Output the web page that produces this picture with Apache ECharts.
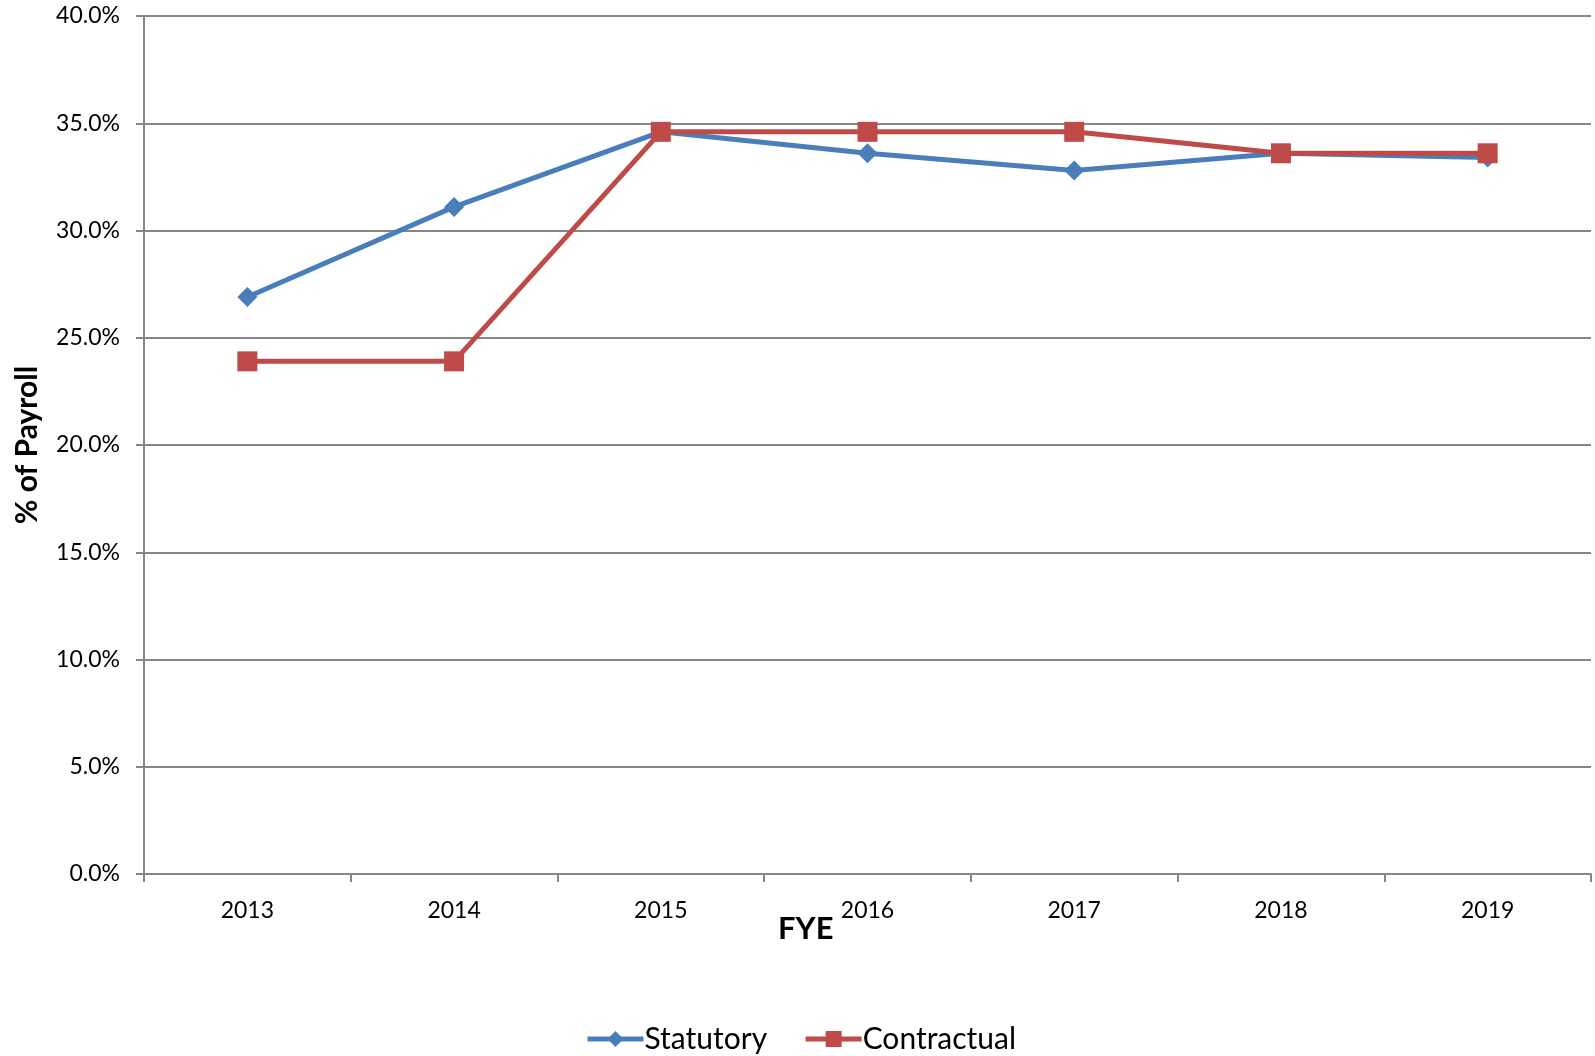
<!DOCTYPE html>
<html>
<head>
<meta charset="utf-8">
<script src="https://cdn.jsdelivr.net/npm/echarts@6/dist/echarts.min.js"></script>
<style>
  html, body { margin: 0; padding: 0; background: #fff; }
  #chart { width: 1595px; height: 1056px; }
</style>
</head>
<body>
<div id="chart"></div>
<script>
var chartDom = document.getElementById('chart');
var myChart = echarts.init(chartDom);
var option;

// fiscal years and % of payroll values
var years = ['2013', '2014', '2015', '2016', '2017', '2018', '2019'];
var statutory = [26.9, 31.1, 34.6, 33.6, 32.8, 33.6, 33.4];
var contractual = [23.9, 23.9, 34.6, 34.6, 34.6, 33.6, 33.6];

var fontName = 'Lato';

option = {
  textStyle: { fontFamily: fontName },
  grid: {
    left: 144,
    right: 4,
    top: 16,
    bottom: 182
  },
  // x axis title sits near the chart centre, not the plot centre
  graphic: [
    {
      type: 'text',
      left: 778,
      top: 913,
      style: { text: 'FYE', fontSize: 31, fontWeight: 'bold', fill: '#000', fontFamily: fontName }
    }
  ],
  legend: {
    bottom: -3,
    left: 580,
    itemWidth: 56,
    itemHeight: 20,
    itemGap: 36,
    lineStyle: { width: 5 },
    textStyle: { fontSize: 30, color: '#000', fontFamily: fontName, padding: [0, 0, 0, -4] },
    data: ['Statutory', 'Contractual']
  },
  xAxis: {
    type: 'category',
    data: years,
    boundaryGap: true,
    axisLine: { lineStyle: { color: '#868686', width: 2 } },
    axisTick: { show: true, length: 8, lineStyle: { color: '#868686', width: 2 } },
    axisLabel: { fontSize: 23, color: '#000', margin: 25 }
  },
  yAxis: {
    type: 'value',
    min: 0,
    max: 40,
    interval: 5,
    name: '% of Payroll',
    nameLocation: 'middle',
    nameGap: 102,
    nameTextStyle: { fontSize: 30, fontWeight: 'bold', color: '#000' },
    axisLine: { show: true, lineStyle: { color: '#868686', width: 2 } },
    axisTick: { show: true, length: 8, lineStyle: { color: '#868686', width: 2 } },
    axisLabel: {
      fontSize: 23,
      color: '#000',
      margin: 24,
      formatter: function (v) { return v.toFixed(1) + '%'; }
    },
    splitLine: { lineStyle: { color: '#868686', width: 2 } }
  },
  series: [
    {
      name: 'Statutory',
      type: 'line',
      data: statutory,
      symbol: 'diamond',
      symbolSize: 20,
      lineStyle: { color: '#4A7EBB', width: 5 },
      itemStyle: { color: '#4A7EBB' },
      z: 2
    },
    {
      name: 'Contractual',
      type: 'line',
      data: contractual,
      symbol: 'rect',
      symbolSize: 20,
      lineStyle: { color: '#BE4B48', width: 5 },
      itemStyle: { color: '#BE4B48' },
      z: 3
    }
  ]
};

option && myChart.setOption(option);
</script>
</body>
</html>
